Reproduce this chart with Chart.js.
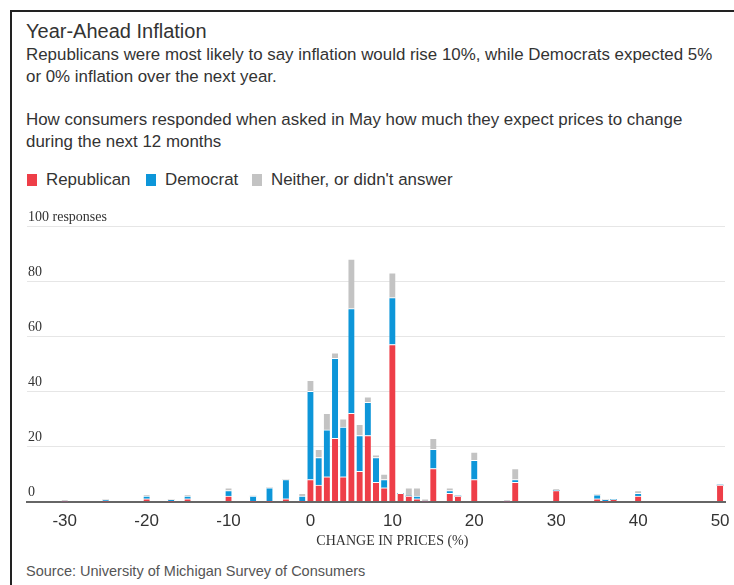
<!DOCTYPE html>
<html>
<head>
<meta charset="utf-8">
<script src="https://cdn.jsdelivr.net/npm/chart.js@4.4.0/dist/chart.umd.min.js"></script>
<style>
  body { margin: 0; background: #fff; font-family: 'Liberation Sans', Arial, sans-serif; color: #333; }
  #page { position: relative; width: 734px; height: 585px; overflow: hidden; }
  #frame { position: absolute; left: 10px; top: 10px; width: 800px; height: 700px; border-left: 2px solid #222; border-top: 2px solid #222; }
  .txt { position: absolute; left: 26px; white-space: nowrap; }
  #title { top: 19px; font-size: 20px; line-height: 24px; }
  .body { font-size: 16.9px; line-height: 22px; }
  .sw { position: absolute; top: 174px; width: 10px; height: 12px; }
  #source { top: 562px; font-size: 14.5px; line-height: 18px; color: #555; }
  #chartBox { position: absolute; left: 0; top: 200px; }
</style>
</head>
<body>
<div id="page">
  <div id="frame"></div>
  <div class="txt" id="title">Year-Ahead Inflation</div>
  <div class="txt body" style="top:44px">Republicans were most likely to say inflation would rise 10%, while Democrats expected 5%<br>or 0% inflation over the next year.</div>
  <div class="txt body" style="top:109px">How consumers responded when asked in May how much they expect prices to change<br>during the next 12 months</div>
  <div class="sw" style="left:27px;background:#ee3e48"></div>
  <div class="txt body" style="top:169px;left:46px">Republican</div>
  <div class="sw" style="left:146px;background:#0d96d9"></div>
  <div class="txt body" style="top:169px;left:165px">Democrat</div>
  <div class="sw" style="left:252px;background:#c3c3c3"></div>
  <div class="txt body" style="top:169px;left:271px">Neither, or didn't answer</div>
  <div id="chartBox"><canvas id="inflChart" width="734" height="360"></canvas></div>
  <div class="txt" id="source">Source: University of Michigan Survey of Consumers</div>
</div>
<script>
// expected change in prices (%), and responses per group
var changes    = [-30, -25, -20, -17, -15, -10, -7, -5, -3, -1, 0, 1, 2, 3, 4, 5, 6, 7, 8, 9, 10, 11, 12, 13, 14, 15, 17, 18, 20, 24, 25, 30, 35, 36, 37, 40, 50];
var republican = [0, 0, 1, 0, 1, 2, 0, 0, 1, 0, 8, 6, 9, 23, 9, 32, 11, 24, 7, 5, 57, 3, 2, 1, 0, 12, 3, 2, 8, 0, 7, 4, 1, 0, 0.7, 2, 6];
var democrat   = [0, 0.6, 1, 0.7, 1, 2, 2, 5, 7, 2, 32, 10, 17, 29, 18, 38, 13, 12, 9, 3, 17, 0, 0, 1, 0, 7, 1, 0, 7, 0, 1, 0, 1.5, 0.7, 0, 1, 0];
var neither    = [0.5, 0, 0.3, 0, 0.3, 1, 0, 0, 0, 1, 4, 3, 6, 2, 3, 18, 4, 2, 1, 2, 9, 0, 3, 3, 1, 4, 1, 0, 3, 0.5, 4, 0.7, 0, 0, 0, 1, 0];
var xTicks = [-30, -20, -10, 0, 10, 20, 30, 40, 50];
var xTitle = 'CHANGE IN PRICES (%)';

function points(values) {
  return changes.map(function (c, i) { return { x: c, y: values[i] }; });
}

function makeSet(label, values, color) {
  return {
    label: label,
    data: points(values),
    backgroundColor: color,
    hoverBackgroundColor: color,
    borderColor: '#fff',
    borderWidth: { top: 1, left: 0, right: 0, bottom: 0 },
    borderSkipped: 'start',
    barThickness: 6
  };
}

// x axis title, centred on the tick range
var axisTitle = {
  id: 'axisTitle',
  afterDraw: function (chart) {
    var ctx = chart.ctx;
    var xs = chart.scales.x;
    ctx.save();
    ctx.font = '14px "Liberation Serif", "Times New Roman", serif';
    ctx.fillStyle = '#333';
    ctx.textAlign = 'center';
    ctx.textBaseline = 'alphabetic';
    ctx.fillText(xTitle, xs.getPixelForValue(10), chart.chartArea.bottom + 43);
    ctx.restore();
  }
};

new Chart('inflChart', {
  type: 'bar',
  data: {
    datasets: [
      makeSet('Republican', republican, '#ee3e48'),
      makeSet('Democrat', democrat, '#0d96d9'),
      makeSet("Neither, or didn't answer", neither, '#c3c3c3')
    ]
  },
  options: {
    responsive: false,
    animation: false,
    layout: { padding: { left: 25, right: 9, top: 26, bottom: 18 } },
    plugins: {
      legend: { display: false },
      tooltip: { enabled: false }
    },
    scales: {
      x: {
        type: 'linear',
        stacked: true,
        offset: false,
        min: -34.6,
        max: 50.6,
        afterBuildTicks: function (axis) {
          axis.ticks = xTicks.map(function (v) { return { value: v }; });
        },
        afterFit: function (axis) {
          // let the last tick label hang into the right margin
          axis.paddingLeft = 0;
          axis.paddingRight = 0;
        },
        grid: { display: false, drawTicks: false },
        border: { display: true, color: '#666', width: 2 },
        ticks: {
          padding: 10,
          color: '#333',
          font: { family: "'Liberation Sans', Arial, sans-serif", size: 17 }
        }
      },
      y: {
        stacked: true,
        min: 0,
        max: 100,
        grid: { color: '#e6e6e6', lineWidth: 1, drawTicks: false },
        border: { display: false },
        ticks: {
          stepSize: 20,
          mirror: true,
          padding: 1,
          labelOffset: -9,
          color: '#333',
          font: { family: "'Liberation Serif', 'Times New Roman', serif", size: 14 },
          callback: function (v) { return v === 100 ? '100 responses' : v; }
        }
      }
    }
  },
  plugins: [axisTitle]
});
</script>
</body>
</html>
